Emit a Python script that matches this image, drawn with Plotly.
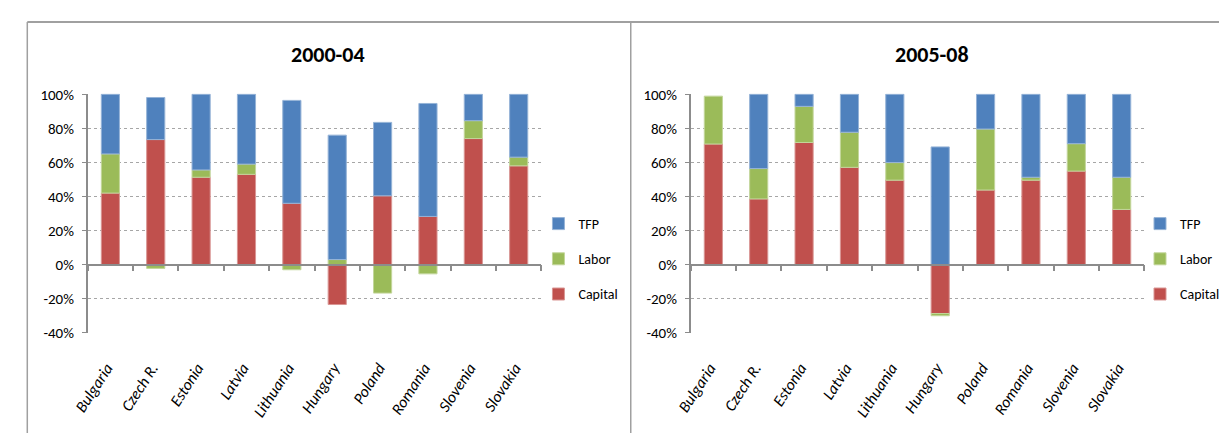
import plotly.graph_objects as go

# Growth decomposition: contribution shares of capital, labor and TFP
countries = ["Bulgaria", "Czech R.", "Estonia", "Latvia", "Lithuania",
             "Hungary", "Poland", "Romania", "Slovenia", "Slovakia"]

capital_2000_04 = [42, 73.4, 51.3, 53, 36, -23.4, 40.4, 28.3, 74, 58]
labor_2000_04 = [23, -2.2, 4.3, 6, -3, 3, -16.7, -5.4, 10.5, 5.1]
tfp_2000_04 = [35, 24.7, 44.4, 41, 60.4, 73, 43.1, 66.3, 15.5, 36.9]

capital_2005_08 = [70.8, 38.6, 71.7, 57.1, 49.6, -28.7, 43.8, 49.6, 54.9, 32.4]
labor_2005_08 = [28.1, 17.8, 21.2, 20.6, 10.3, -1.3, 35.8, 1.7, 16.1, 18.9]
tfp_2005_08 = [-0.5, 43.6, 7.1, 22.3, 40.1, 69.1, 20.4, 48.7, 29, 48.7]

panel_titles = ["2000-04", "2005-08"]
y_tickvals = [-40, -20, 0, 20, 40, 60, 80, 100]
y_ticktext = ["-40%", "-20%", "0%", "20%", "40%", "60%", "80%", "100%"]

W, H = 1225, 442


def px(x):
    """Pixel column -> paper x."""
    return x / W


def py(y):
    """Pixel row (from top) -> paper y."""
    return 1 - y / H


FONT = "Carlito, Roboto, Liberation Sans, sans-serif"
GRAY = "#8C8C8C"
colors = {"Capital": "#C0504D", "Labor": "#9BBB59", "TFP": "#4F81BD"}
edges = {"Capital": "#D99694", "Labor": "#C3D69B", "TFP": "#95B3D7"}
ranks = {"TFP": 1, "Labor": 2, "Capital": 3}

y_range = [-40.4, 100.4]
y_dom = [py(338.5), py(89)]
x_doms = [[px(73), px(535)], [px(687), px(1149)]]
zero_pos = y_dom[0] + (0 - y_range[0]) / (y_range[1] - y_range[0]) * (y_dom[1] - y_dom[0])
label_shift = 0.08  # nudges the slanted country names so their ends sit on the bar centres

fig = go.Figure()

panels = [
    (capital_2000_04, labor_2000_04, tfp_2000_04),
    (capital_2005_08, labor_2005_08, tfp_2005_08),
]

for i, (cap, lab, tfp) in enumerate(panels):
    xa = "x" if i == 0 else "x2"
    ya = "y" if i == 0 else "y2"
    leg = "legend" if i == 0 else "legend2"
    for name, vals in (("Capital", cap), ("Labor", lab), ("TFP", tfp)):
        fig.add_trace(go.Bar(
            x=countries, y=vals, name=name, xaxis=xa, yaxis=ya,
            legend=leg, legendgroup=name, legendrank=ranks[name],
            marker=dict(color=colors[name], line=dict(color=edges[name], width=1)),
            hoverinfo="x+y+name",
        ))
    # transparent anchor trace so the country-label axis gets drawn
    fig.add_trace(go.Scatter(
        x=list(range(len(countries))), y=[0] * len(countries),
        xaxis="x3" if i == 0 else "x4", yaxis=ya,
        mode="markers", marker=dict(opacity=0), showlegend=False, hoverinfo="skip",
    ))

layout = dict(
    width=W, height=H,
    margin=dict(l=0, r=0, t=0, b=0),
    paper_bgcolor="white", plot_bgcolor="white",
    barmode="relative", bargap=0.6,
    font=dict(family=FONT, size=14, color="black"),
    showlegend=True,
)

for i in range(2):
    s = "" if i == 0 else "2"
    lab_s = "3" if i == 0 else "4"
    layout["xaxis" + s] = dict(
        domain=x_doms[i], anchor="free", position=zero_pos,
        type="category", categoryorder="array", categoryarray=countries,
        showline=True, linecolor=GRAY, linewidth=1.5,
        ticks="outside", tickson="boundaries", ticklen=6, tickcolor=GRAY, tickwidth=1.5,
        showticklabels=False, showgrid=False, zeroline=False,
    )
    layout["xaxis" + lab_s] = dict(
        overlaying="x" + s, anchor="y" + s,
        range=[-0.5 + label_shift, len(countries) - 0.5 + label_shift],
        tickmode="array", tickvals=list(range(len(countries))), ticktext=countries,
        tickangle=-57, ticks="", showline=False, showgrid=False, zeroline=False,
        tickfont=dict(family=FONT, size=16, style="italic", color="black"),
        ticklabelstandoff=21,
    )
    layout["yaxis" + s] = dict(
        domain=y_dom, anchor="x" + s, range=y_range,
        tickmode="array", tickvals=y_tickvals, ticktext=y_ticktext,
        showline=True, linecolor=GRAY, linewidth=1.5,
        ticks="outside", ticklen=4, tickcolor=GRAY,
        showgrid=True, gridcolor="#A6A6A6", griddash="dot", gridwidth=1,
        zeroline=False, tickfont=dict(family=FONT, size=15, color="black"),
        ticklabelstandoff=5,
    )

legend_style = dict(
    traceorder="grouped", tracegroupgap=14,
    yanchor="top", y=py(208), xanchor="left",
    font=dict(family=FONT, size=14, color="black"),
    bgcolor="rgba(0,0,0,0)",
)
layout["legend"] = dict(legend_style, x=px(532))
layout["legend2"] = dict(legend_style, x=px(1145))

layout["annotations"] = [
    dict(text="<b>%s</b>" % panel_titles[0], x=px(318), y=py(48), xref="paper", yref="paper",
         xanchor="center", yanchor="middle", showarrow=False,
         font=dict(family=FONT, size=22, color="black")),
    dict(text="<b>%s</b>" % panel_titles[1], x=px(933), y=py(48), xref="paper", yref="paper",
         xanchor="center", yanchor="middle", showarrow=False,
         font=dict(family=FONT, size=22, color="black")),
]

border = dict(type="line", xref="paper", yref="paper", line=dict(color="#A0A0A0", width=2))
layout["shapes"] = [
    dict(border, x0=px(11.5), x1=1, y0=py(14.5), y1=py(14.5)),
    dict(border, x0=px(11.5), x1=px(11.5), y0=0, y1=py(14.5), line=dict(color="#A0A0A0", width=1.5)),
    dict(border, x0=px(626), x1=px(626), y0=0, y1=py(14.5), line=dict(color="#A0A0A0", width=1.5)),
]

fig.update_layout(**layout)
fig.write_html("out.html")
